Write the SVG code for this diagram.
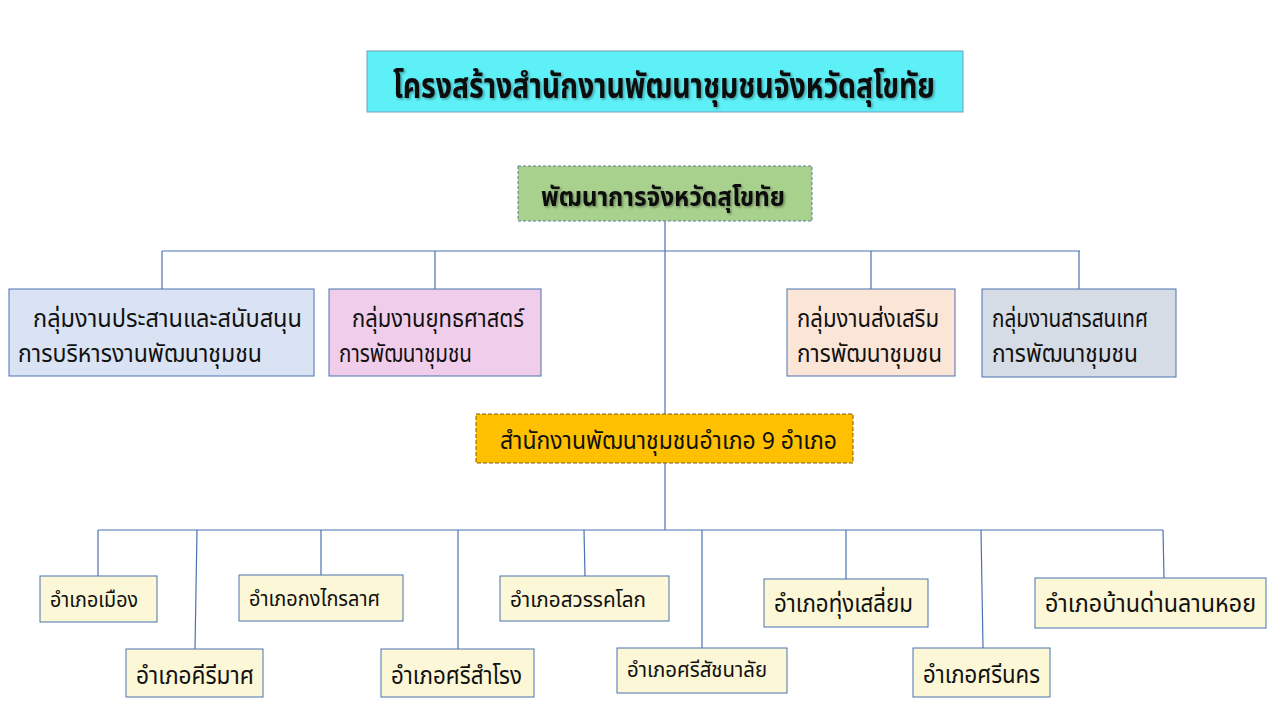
<svg xmlns="http://www.w3.org/2000/svg" width="1280" height="720" viewBox="0 0 1280 720">
<defs>
<filter id="sh" x="-5%" y="-20%" width="110%" height="140%">
<feDropShadow dx="1.5" dy="1.5" stdDeviation="0.8" flood-color="#000" flood-opacity="0.35"/>
</filter>
</defs>
<style>
text{font-family:"Noto Sans Thai","Noto Sans","DejaVu Sans",sans-serif;fill:#111}
.box{stroke:#4a72b0;stroke-width:1}
.dist{fill:#fcf7d6;stroke:#4a72b0;stroke-width:1}
.ln{stroke:#4a72b0;stroke-width:1.2;fill:none}
.t1{font-size:24px}
.t2{font-size:25px}
.t3{font-size:21px}
</style>
<rect width="1280" height="720" fill="#fff"/>
<g id="title">
<rect x="367" y="51" width="596" height="61" fill="#5ef0f7" stroke="#6f9fc0" stroke-width="1"/>
<text x="393" y="98" font-size="35" font-weight="bold" textLength="542" lengthAdjust="spacingAndGlyphs" filter="url(#sh)">โครงสร้างสำนักงานพัฒนาชุมชนจังหวัดสุโขทัย</text>
</g>
<g id="connectors">
<path class="ln" d="M665 221V414M162 251H1080M162 251V289M435 251V289M871 251V289M1079 251V289"/>
<path class="ln" d="M665 463V530M98 530H1163M98 530V576M197 530L195 649M321 530V575M458 530V649M584 530L585 576M702 530V648M846 530V579M981 530L983 648M1163 530L1164 578"/>
</g>
<g id="head">
<rect x="518" y="166" width="294" height="55" fill="#a9d18e" stroke="#5a7d9a" stroke-width="1" stroke-dasharray="3,2"/>
<text x="541" y="206" font-size="27" font-weight="bold" textLength="244" lengthAdjust="spacingAndGlyphs" filter="url(#sh)">พัฒนาการจังหวัดสุโขทัย</text>
</g>
<g id="g1">
<rect class="box" x="9" y="289" width="305" height="87" fill="#dae3f3"/>
<text class="t1" x="33" y="327" textLength="269" lengthAdjust="spacingAndGlyphs">กลุ่มงานประสานและสนับสนุน</text>
<text class="t1" x="18" y="362" textLength="244" lengthAdjust="spacingAndGlyphs">การบริหารงานพัฒนาชุมชน</text>
</g>
<g id="g2">
<rect class="box" x="329" y="289" width="212" height="87" fill="#f0cdea"/>
<text class="t1" x="352" y="327" textLength="172" lengthAdjust="spacingAndGlyphs">กลุ่มงานยุทธศาสตร์</text>
<text class="t1" x="339" y="362" textLength="133" lengthAdjust="spacingAndGlyphs">การพัฒนาชุมชน</text>
</g>
<g id="g3">
<rect class="box" x="787" y="289" width="168" height="87" fill="#fbe5d6"/>
<text class="t1" x="797" y="327" textLength="142" lengthAdjust="spacingAndGlyphs">กลุ่มงานส่งเสริม</text>
<text class="t1" x="797" y="362" textLength="145" lengthAdjust="spacingAndGlyphs">การพัฒนาชุมชน</text>
</g>
<g id="g4">
<rect class="box" x="982" y="289" width="194" height="88" fill="#d6dce5"/>
<text class="t1" x="992" y="327" textLength="156" lengthAdjust="spacingAndGlyphs">กลุ่มงานสารสนเทศ</text>
<text class="t1" x="992" y="362" textLength="146" lengthAdjust="spacingAndGlyphs">การพัฒนาชุมชน</text>
</g>
<g id="office">
<rect x="476" y="414" width="377" height="49" fill="#ffc000" stroke="#7f5a1e" stroke-width="1" stroke-dasharray="4,2"/>
<text class="t1" x="500" y="449" textLength="337" lengthAdjust="spacingAndGlyphs">สำนักงานพัฒนาชุมชนอำเภอ 9 อำเภอ</text>
</g>
<g id="d1"><rect class="dist" x="40" y="576" width="117" height="46"/><text class="t3" x="50" y="607" textLength="88" lengthAdjust="spacingAndGlyphs">อำเภอเมือง</text></g>
<g id="d2"><rect class="dist" x="126" y="649" width="137" height="48"/><text class="t2" x="136" y="684" textLength="118" lengthAdjust="spacingAndGlyphs">อำเภอคีรีมาศ</text></g>
<g id="d3"><rect class="dist" x="239" y="575" width="164" height="46"/><text class="t3" x="249" y="606" textLength="131" lengthAdjust="spacingAndGlyphs">อำเภอกงไกรลาศ</text></g>
<g id="d4"><rect class="dist" x="381" y="649" width="153" height="48"/><text class="t2" x="391" y="684" textLength="131" lengthAdjust="spacingAndGlyphs">อำเภอศรีสำโรง</text></g>
<g id="d5"><rect class="dist" x="500" y="576" width="169" height="45"/><text class="t3" x="510" y="607" textLength="136" lengthAdjust="spacingAndGlyphs">อำเภอสวรรคโลก</text></g>
<g id="d6"><rect class="dist" x="617" y="648" width="170" height="45"/><text class="t3" x="627" y="677" textLength="140" lengthAdjust="spacingAndGlyphs">อำเภอศรีสัชนาลัย</text></g>
<g id="d7"><rect class="dist" x="764" y="579" width="164" height="48"/><text class="t2" x="774" y="612" textLength="139" lengthAdjust="spacingAndGlyphs">อำเภอทุ่งเสลี่ยม</text></g>
<g id="d8"><rect class="dist" x="913" y="648" width="137" height="49"/><text class="t2" x="923" y="683" textLength="117" lengthAdjust="spacingAndGlyphs">อำเภอศรีนคร</text></g>
<g id="d9"><rect class="dist" x="1035" y="578" width="231" height="50"/><text class="t2" x="1045" y="612" textLength="211" lengthAdjust="spacingAndGlyphs">อำเภอบ้านด่านลานหอย</text></g>
</svg>
